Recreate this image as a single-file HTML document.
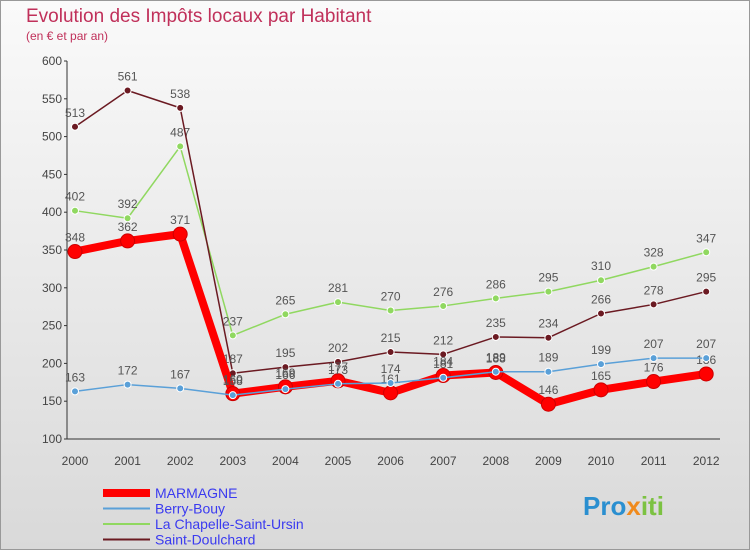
<!DOCTYPE html>
<html><head><meta charset="utf-8"><style>
body{margin:0;width:750px;height:550px;overflow:hidden;font-family:"Liberation Sans",sans-serif}
#c{position:absolute;left:0;top:0;width:748px;height:548px;border:1px solid #999;background:linear-gradient(#fafafa,#d9d9d9)}
</style></head><body>
<div id="c">
<svg id="s" width="750" height="550" style="position:absolute;left:-1px;top:-1px">
<text x="26" y="22" font-size="19" fill="#c0305a">Evolution des Impôts locaux par Habitant</text>
<text x="26" y="40" font-size="12" fill="#c0305a">(en € et par an)</text>
<g id="g"></g>
</svg>
<svg width="130" height="40" style="position:absolute;left:580px;top:486px"><text x="2" y="28" font-size="26" font-weight="bold" fill="#2a8fd0">Pro<tspan fill="#f08a1c">x</tspan><tspan fill="#7cc242">iti</tspan></text></svg>
</div>
<script>
const years=["2000","2001","2002","2003","2004","2005","2006","2007","2008","2009","2010","2011","2012"];
const yTicks=[100,150,200,250,300,350,400,450,500,550,600];
const marmagne=[348,362,371,160,169,177,161,184,188,146,165,176,186];
const berry=[163,172,167,158,166,173,174,181,189,189,199,207,207];
const chapelle=[402,392,487,237,265,281,270,276,286,295,310,328,347];
const doulchard=[513,561,538,187,195,202,215,212,235,234,266,278,295];
const names=["MARMAGNE","Berry-Bouy","La Chapelle-Saint-Ursin","Saint-Doulchard"];
const NS="http://www.w3.org/2000/svg";
const g=document.getElementById('g');
const X=i=>75+i*52.6, Y=v=>439-(v-100)*0.756;
function el(t,a,p){const e=document.createElementNS(NS,t);for(const k in a)e.setAttribute(k,a[k]);(p||g).appendChild(e);return e;}
const ax=el('line',{x1:67,y1:61,x2:67,y2:439,stroke:'#333'});


const bx=el('line',{x1:67,y1:439,x2:720,y2:439,stroke:'#333'});


yTicks.forEach(v=>{const t=el('text',{x:62,y:Y(v)+4,'text-anchor':'end','font-size':12,fill:'#444'});t.textContent=v;


el('line',{x1:64,y1:Y(v),x2:67,y2:Y(v),stroke:'#333'});});
years.forEach((y,i)=>{const t=el('text',{x:X(i),y:465,'text-anchor':'middle','font-size':12,fill:'#444'});t.textContent=y;

});
const series=[
{d:chapelle,c:'#90d860',w:1.5,r:3.5,n:'series-la-chapelle'},
{d:doulchard,c:'#6b1a22',w:1.5,r:3.5,n:'series-saint-doulchard'},
{d:marmagne,c:'#f00',w:8,r:7,n:'series-marmagne'},
{d:berry,c:'#5aa0d8',w:1.5,r:3.5,n:'series-berry-bouy'}];
series.forEach(s=>{const p=el('polyline',{points:s.d.map((v,i)=>X(i)+','+Y(v)).join(' '),fill:'none',stroke:s.c,'stroke-width':s.w,'stroke-linejoin':'round'});


s.d.forEach((v,i)=>{const c=el('circle',{cx:X(i),cy:Y(v),r:s.r,fill:s.c,stroke:s.c=='#f00'?'#c00':'#fff','stroke-width':1});


const t=el('text',{x:X(i),y:Y(v)-10,'text-anchor':'middle','font-size':12,fill:'#555'});t.textContent=v;

});});
const lc=['#f00','#5aa0d8','#90d860','#6b1a22'];
names.forEach((n,i)=>{const yy=493+i*15.5;
const l=el('line',{x1:103,y1:yy,x2:150,y2:yy,stroke:lc[i],'stroke-width':i==0?8:2});


const t=el('text',{x:155,y:yy+5,'font-size':14,fill:'#3a3af0'});t.textContent=n;

});
</script>
</body></html>
